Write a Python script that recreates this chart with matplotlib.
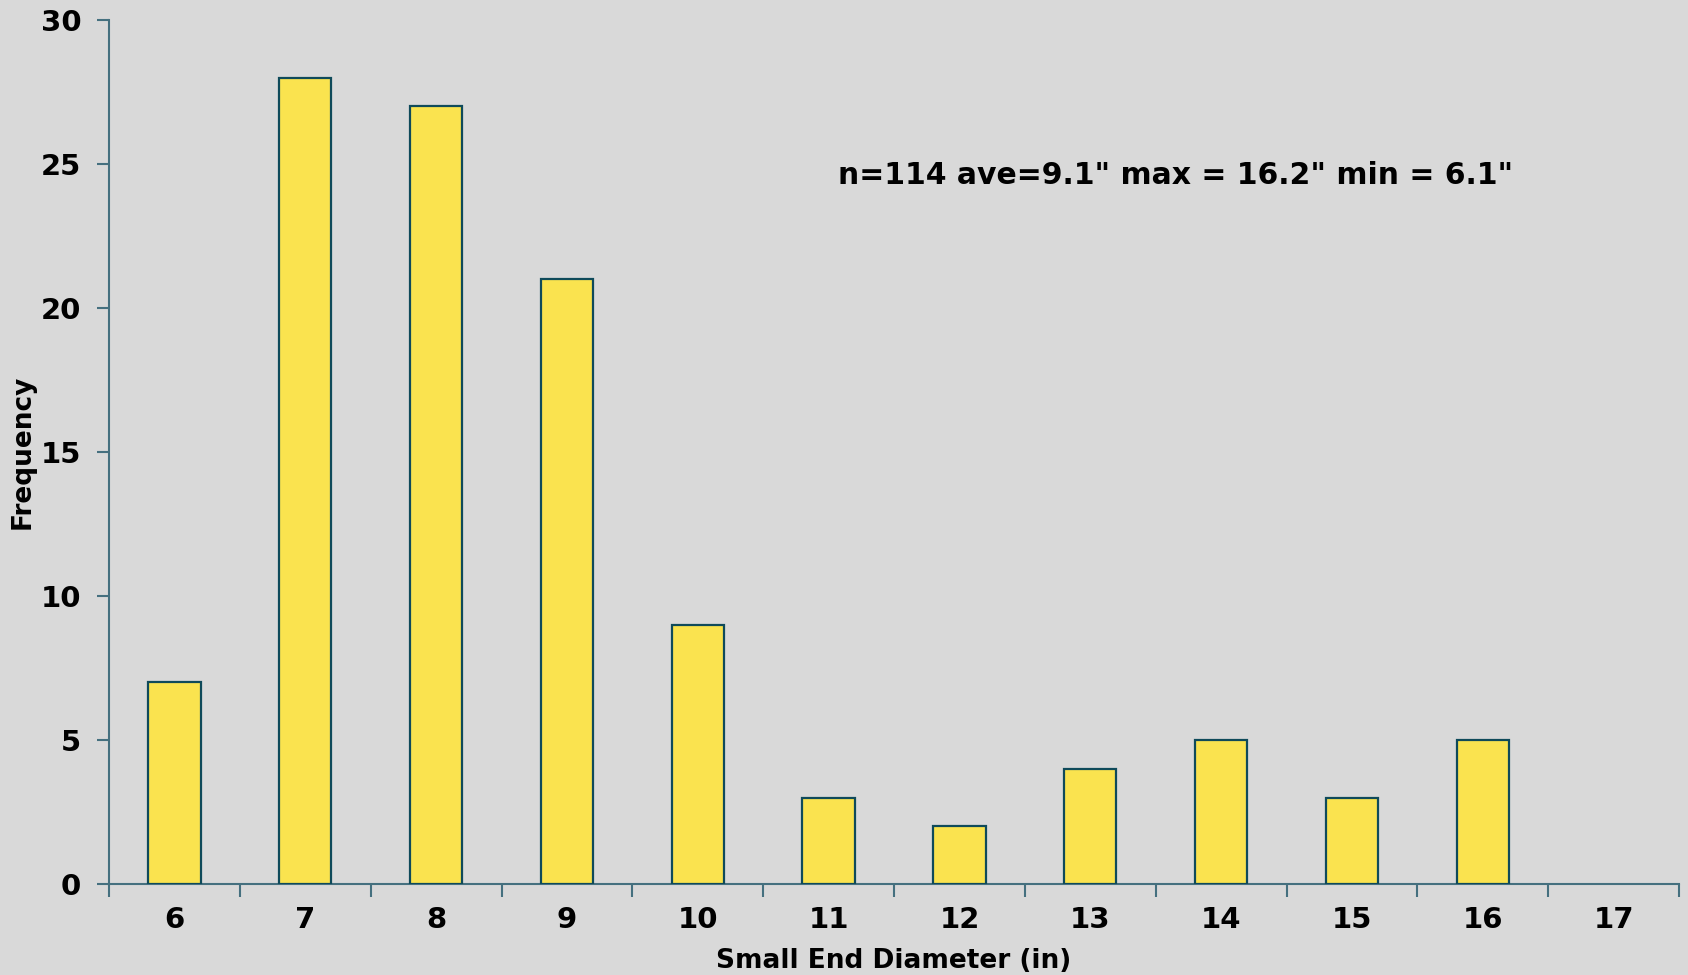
import numpy as np
import matplotlib.pyplot as plt

# --- Data ---
diameters = ["6", "7", "8", "9", "10", "11", "12", "13", "14", "15", "16", "17"]
frequency = [7, 28, 27, 21, 9, 3, 2, 4, 5, 3, 5, 0]
note = 'n=114 ave=9.1" max = 16.2" min = 6.1"'

BG = "#d9d9d9"
SPINE = "#45707f"
EDGE = "#0f4a5a"
FILL = "#fae34f"

plt.rcParams["font.family"] = ["DejaVu Sans"]
plt.rcParams["font.weight"] = "bold"

fig = plt.figure(figsize=(16.88, 9.75), dpi=100, facecolor=BG)
ax = fig.add_axes([0.0646, 0.0933, 0.9301, 0.8862], facecolor=BG)

x = np.arange(len(diameters))
# empty bins get no outline
edge_widths = [1.6 if f > 0 else 0 for f in frequency]
ax.bar(x, frequency, width=0.4, color=FILL, edgecolor=EDGE,
       linewidth=edge_widths, zorder=3)

ax.set_xlim(-0.5, len(diameters) - 0.5)
ax.set_ylim(0, 30)
ax.set_yticks(range(0, 31, 5))

# ticks between categories, labels at centres
ax.set_xticks(np.arange(-0.5, len(diameters), 1.0))
ax.set_xticklabels([])
ax.set_xticks(x, minor=True)
ax.set_xticklabels(diameters, minor=True)
ax.tick_params(axis="x", which="major", length=9, width=1.5, color=SPINE)
ax.tick_params(axis="x", which="minor", length=0, pad=16, labelsize=21)
ax.tick_params(axis="y", length=9, width=1.5, color=SPINE, pad=11, labelsize=21)

for side in ["top", "right"]:
    ax.spines[side].set_visible(False)
for side in ["left", "bottom"]:
    ax.spines[side].set_color(SPINE)
    ax.spines[side].set_linewidth(1.5)

ax.set_ylabel("Frequency", fontsize=19, fontweight="bold")
ax.yaxis.set_label_coords(-0.047, 0.5)
ax.set_xlabel("Small End Diameter (in)", fontsize=19, fontweight="bold", labelpad=10)

ax.text(5.07, 24.6, note, fontsize=21.5, fontweight="bold", va="center", ha="left")

plt.savefig("out.png", dpi=100, facecolor=BG)
